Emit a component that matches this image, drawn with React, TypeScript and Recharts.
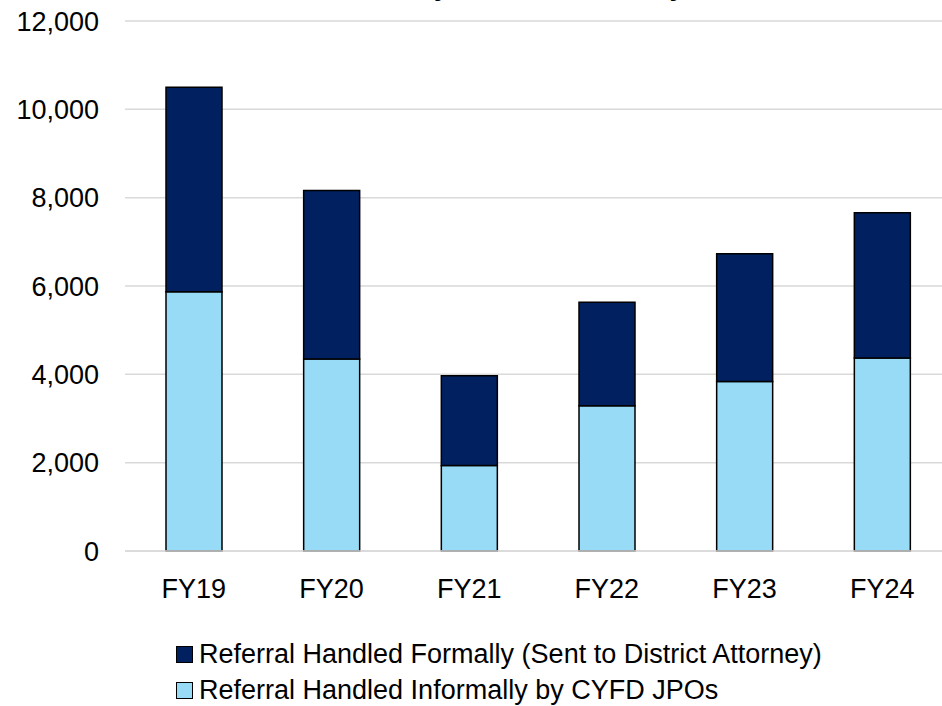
import { BarChart, Bar, XAxis, YAxis, CartesianGrid, Legend } from "recharts";

const years = ["FY19", "FY20", "FY21", "FY22", "FY23", "FY24"];
const informal = [5870, 4350, 1935, 3290, 3840, 4370];
const formal = [4630, 3810, 2035, 2340, 2890, 3290];
const yTicks = [0, 2000, 4000, 6000, 8000, 10000, 12000];

const DARK = "#002060";
const LIGHT = "#97DBF6";
const FONT = "'Liberation Sans', Arial, sans-serif";

const data = years.map((year, i) => ({
  year,
  informal: informal[i],
  formal: formal[i],
}));

const formatTick = (v: number) => v.toLocaleString("en-US");

// formal entry goes first in the legend, like the reference
const LegendBox = ({ payload }: any) => {
  const items = [...(payload || [])].sort((a: any) =>
    a.dataKey === "formal" ? -1 : 1
  );
  return (
    <div style={{ fontFamily: FONT, fontSize: 27, color: "#000" }}>
      {items.map((entry: any) => (
        <div key={entry.value} style={{ display: "flex", alignItems: "center", height: 36 }}>
          <span
            style={{
              display: "inline-block",
              width: 15,
              height: 15,
              background: entry.color,
              border: "1.5px solid #000",
              marginRight: 6,
            }}
          />
          <span>{entry.value}</span>
        </div>
      ))}
    </div>
  );
};

const App = () => {
  return (
    <div style={{ position: "fixed", top: 0, left: 0, width: 942, height: 706, overflow: "hidden", background: "#fff" }}>
      {/* title sits mostly above the frame, only descenders show */}
      <div
        style={{
          position: "absolute",
          top: -29,
          left: 0,
          width: 1010,
          textAlign: "center",
          fontFamily: FONT,
          fontWeight: "bold",
          fontSize: 27,
          color: "#000",
          whiteSpace: "nowrap",
        }}
      >
        Juvenile Referrals by Case Outcome by Fiscal Year
      </div>
      <BarChart
        width={951}
        height={620}
        data={data}
        margin={{ top: 21, right: 0, bottom: 0, left: 0 }}
        barSize={56}
      >
        <CartesianGrid vertical={false} stroke="#d9d9d9" strokeWidth={1.5} />
        <XAxis
          dataKey="year"
          height={69}
          axisLine={{ stroke: "#d9d9d9", strokeWidth: 1.5 }}
          tickLine={false}
          tickMargin={22}
          tick={{ fill: "#000", fontSize: 27, fontFamily: FONT }}
        />
        <YAxis
          width={125}
          domain={[0, 12000]}
          ticks={yTicks}
          axisLine={false}
          tickLine={false}
          tickMargin={20}
          tickFormatter={formatTick}
          tick={{ fill: "#000", fontSize: 27, fontFamily: FONT }}
        />
        <Legend
          layout="vertical"
          align="center"
          verticalAlign="middle"
          content={<LegendBox />}
          wrapperStyle={{ position: "absolute", top: 636, left: 176, width: 760, height: 72 }}
        />
        <Bar
          dataKey="informal"
          name="Referral Handled Informally by CYFD JPOs"
          stackId="a"
          fill={LIGHT}
          stroke="#000"
          strokeWidth={1.5}
          isAnimationActive={false}
        />
        <Bar
          dataKey="formal"
          name="Referral Handled Formally (Sent to District Attorney)"
          stackId="a"
          fill={DARK}
          stroke="#000"
          strokeWidth={1.5}
          isAnimationActive={false}
        />
      </BarChart>
    </div>
  );
};

export default App;
